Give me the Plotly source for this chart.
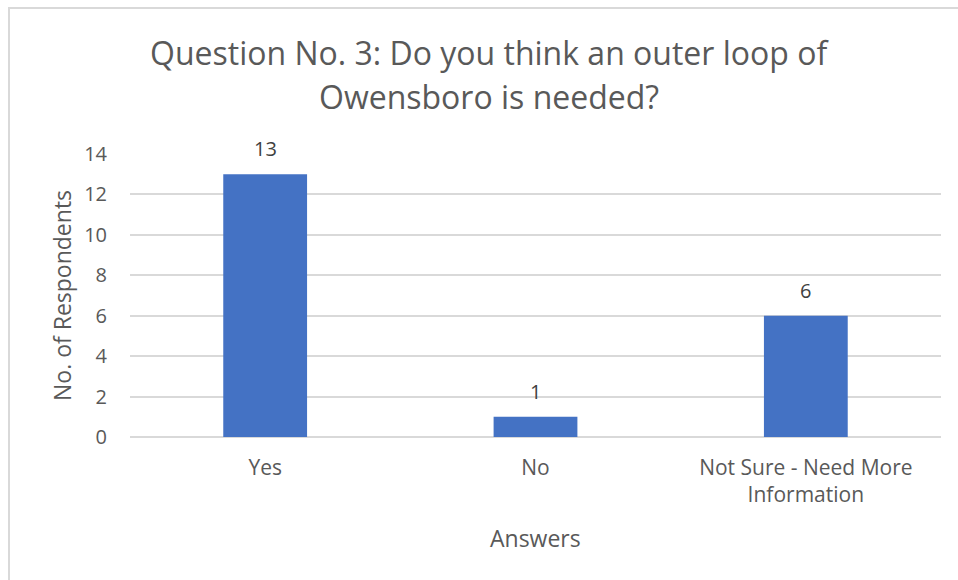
import plotly.graph_objects as go

# Survey responses
answers = ["Yes", "No", "Not Sure - Need More<br>Information"]
respondents = [13, 1, 6]
y_ticks = [0, 2, 4, 6, 8, 10, 12, 14]

title_lines = ["Question No. 3: Do you think an outer loop of", "Owensboro is needed?"]
x_title = "Answers"
y_title = "No. of Respondents"

W, H = 958, 580
L, R, T, B = 130, 17, 154, 143
plot_w = W - L - R
plot_h = H - T - B


def px_x(px):
    return (px - L) / plot_w


def px_y(py):
    return (H - B - py) / plot_h


FONT = "Open Sans"
TXT = "#595959"
BAR = "#4472C4"
GRID = "#D9D9D9"

fig = go.Figure(
    go.Bar(
        x=answers,
        y=respondents,
        marker=dict(color=BAR, line=dict(width=0)),
        width=0.31,
        hoverinfo="skip",
    )
)

# value labels above each bar
for a, v in zip(answers, respondents):
    fig.add_annotation(
        x=a, y=v, xref="x", yref="y", text=str(v), showarrow=False,
        yanchor="bottom", yshift=10,
        font=dict(family=FONT, size=20, color="#404040"),
    )

# two-line chart title
for line, py in zip(title_lines, [52, 97]):
    fig.add_annotation(
        x=px_x(489), y=px_y(py), xref="paper", yref="paper", text=line,
        showarrow=False, xanchor="center", yanchor="middle",
        font=dict(family=FONT, size=32, color=TXT),
    )

# axis titles
fig.add_annotation(
    x=px_x(62), y=px_y(296), xref="paper", yref="paper", text=y_title,
    showarrow=False, textangle=-90, xanchor="center", yanchor="middle",
    font=dict(family=FONT, size=23, color=TXT),
)
fig.add_annotation(
    x=0.5, y=px_y(538), xref="paper", yref="paper", text=x_title,
    showarrow=False, xanchor="center", yanchor="middle",
    font=dict(family=FONT, size=23, color=TXT),
)

# chart border
fig.add_shape(
    type="rect", xref="paper", yref="paper",
    x0=px_x(9), y0=px_y(H + 20), x1=px_x(W + 20), y1=px_y(8),
    line=dict(color="#D9D9D9", width=2), fillcolor="rgba(0,0,0,0)", layer="below",
)

fig.update_layout(
    width=W, height=H,
    margin=dict(l=L, r=R, t=T, b=B, pad=0),
    paper_bgcolor="white", plot_bgcolor="white",
    showlegend=False,
    font=dict(family=FONT, color=TXT),
    xaxis=dict(
        showgrid=False, showline=False, zeroline=False, ticks="",
        tickfont=dict(family=FONT, size=21, color=TXT),
        ticklabelstandoff=16,
        fixedrange=True,
    ),
    yaxis=dict(
        range=[0, 14], tickvals=y_ticks, showgrid=True, gridcolor=GRID, gridwidth=1.5,
        zeroline=True, zerolinecolor=GRID, zerolinewidth=1.5,
        showline=False, ticks="",
        tickfont=dict(family=FONT, size=20, color=TXT),
        ticklabelstandoff=22,
        fixedrange=True,
    ),
)

fig.write_html("out.html")
